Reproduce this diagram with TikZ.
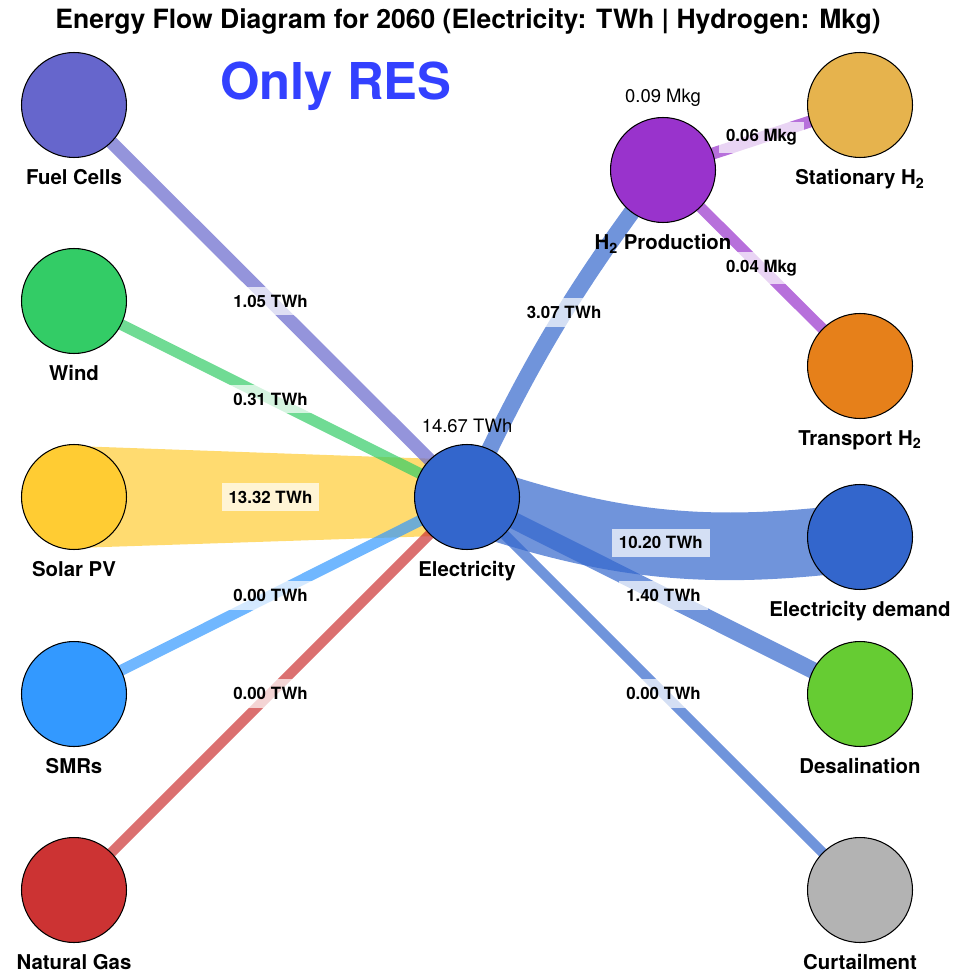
\documentclass[tikz,border=0pt]{standalone}
\usepackage{fontspec}
\setmainfont{TeX Gyre Heros}
\usepackage{tikz}
\usetikzlibrary{calc, positioning, backgrounds}
\definecolor{FuelCol}{HTML}{6666CC}
\definecolor{WindCol}{HTML}{33CC66}
\definecolor{SolarCol}{HTML}{FFCC33}
\definecolor{SmrCol}{HTML}{3399FF}
\definecolor{GasCol}{HTML}{CC3333}
\definecolor{ElecCol}{HTML}{3366CC}
\definecolor{HtwoCol}{HTML}{9933CC}
\definecolor{StatCol}{HTML}{E6B34D}
\definecolor{TransCol}{HTML}{E6801A}
\definecolor{DesalCol}{HTML}{66CC33}
\definecolor{CurtCol}{HTML}{B3B3B3}
\definecolor{ResBlue}{HTML}{3341FF}
\tikzset{
  unit/.style={circle, draw=black, line width=0.6pt, minimum size=2.1cm, inner sep=0pt},
  tag/.style={font=\fontsize{11.6}{13}\selectfont\bfseries, inner sep=0pt},
  total/.style={font=\fontsize{10.5}{12}\selectfont, inner sep=0pt},
  flow/.style={line cap=butt, draw opacity=0.7},
  flowlabel/.style={font=\fontsize{9.6}{11}\selectfont\bfseries, fill=white, fill opacity=0.7,
    text opacity=1, inner xsep=4pt, inner ysep=4.5pt},
  heading/.style={font=\fontsize{15.1}{17}\selectfont\bfseries, anchor=base},
}

\begin{document}
\begin{tikzpicture}[x=0.02cm, y=-0.02cm]
  \useasboundingbox (0,0) rectangle (973,976);

  \node[heading] (title) at (468,29) {Energy Flow Diagram for 2060 (Electricity: TWh | Hydrogen: Mkg)};
  \node[anchor=base, text=ResBlue, font=\fontsize{28.9}{32}\selectfont\bfseries] (scenario) at (336,100) {Only RES};

  % sources
  \node[unit, fill=FuelCol]  (fc)    at (74,105) {};
  \node[unit, fill=WindCol]  (wind)  at (74,301) {};
  \node[unit, fill=SolarCol] (solar) at (74,497) {};
  \node[unit, fill=SmrCol]   (smr)   at (74,694) {};
  \node[unit, fill=GasCol]   (gas)   at (74,890) {};
  % hubs
  \node[unit, fill=ElecCol]  (elec)  at (467,497) {};
  \node[unit, fill=HtwoCol]  (htwo)  at (663,170) {};
  % sinks
  \node[unit, fill=StatCol]  (stat)   at (860,105) {};
  \node[unit, fill=TransCol] (trans)  at (860,366) {};
  \node[unit, fill=ElecCol]  (demand) at (860,537) {};
  \node[unit, fill=DesalCol] (desal)  at (860,694) {};
  \node[unit, fill=CurtCol]  (curt)   at (860,890) {};

  \node[tag, below=6.5pt of fc]     (fc-tag)     {Fuel Cells};
  \node[tag, below=6.5pt of wind]   (wind-tag)   {Wind};
  \node[tag, below=6.5pt of solar]  (solar-tag)  {Solar PV};
  \node[tag, below=6.5pt of smr]    (smr-tag)    {SMRs};
  \node[tag, below=6.5pt of gas]    (gas-tag)    {Natural Gas};
  \node[tag, below=6.5pt of elec]   (elec-tag)   {Electricity};
  \node[tag, below=6.5pt of htwo]   (htwo-tag)   {H\textsubscript{2} Production};
  \node[tag, below=6.5pt of stat]   (stat-tag)   {Stationary H\textsubscript{2}};
  \node[tag, below=6.5pt of trans]  (trans-tag)  {Transport H\textsubscript{2}};
  \node[tag, below=6.5pt of demand] (demand-tag) {Electricity demand};
  \node[tag, below=6.5pt of desal]  (desal-tag)  {Desalination};
  \node[tag, below=6.5pt of curt]   (curt-tag)   {Curtailment};

  \node[total, above=6pt of elec] (elec-total) {14.67 TWh};
  \node[total, above=6pt of htwo] (htwo-total) {0.09 Mkg};

  \begin{pgfonlayer}{background}
    \fill[SolarCol, fill opacity=0.7] ($(solar.center)+(0,-51)$) -- ($(elec.center)+(0,-37)$)
      -- ($(elec.center)+(0,38)$) -- ($(solar.center)+(0,51)$) -- cycle;
    \node[flowlabel] (solar-flow) at ($(solar.center)!0.5!(elec.center)$) {13.32 TWh};

    \draw[flow, draw=FuelCol, line width=7.4pt] (fc.center) -- node[flowlabel] (fc-flow) {1.05 TWh} (elec.center);
    \draw[flow, draw=WindCol, line width=6.2pt] (wind.center) -- node[flowlabel] (wind-flow) {0.31 TWh} (elec.center);
    \draw[flow, draw=SmrCol, line width=6.2pt] (smr.center) -- node[flowlabel] (smr-flow) {0.00 TWh} (elec.center);
    \draw[flow, draw=GasCol, line width=5.7pt] (gas.center) -- node[flowlabel] (gas-flow) {0.00 TWh} (elec.center);

    \draw[flow, draw=ElecCol, line width=38.5pt] (elec.center) to[bend right=13]
      node[flowlabel] (demand-flow) {10.20 TWh} (demand.center);
    \draw[flow, draw=ElecCol, line width=9.4pt] (elec.center) to[bend left=6]
      node[flowlabel, pos=0.55] (htwo-flow) {3.07 TWh} (htwo.center);
    \draw[flow, draw=ElecCol, line width=9.6pt] (elec.center) -- node[flowlabel] (desal-flow) {1.40 TWh} (desal.center);
    \draw[flow, draw=ElecCol, line width=5.7pt] (elec.center) -- node[flowlabel] (curt-flow) {0.00 TWh} (curt.center);

    \draw[flow, draw=HtwoCol, line width=6.8pt] (htwo.center) -- node[flowlabel] (stat-flow) {0.06 Mkg} (stat.center);
    \draw[flow, draw=HtwoCol, line width=6.2pt] (htwo.center) -- node[flowlabel] (trans-flow) {0.04 Mkg} (trans.center);
  \end{pgfonlayer}
\end{tikzpicture}
\end{document}
